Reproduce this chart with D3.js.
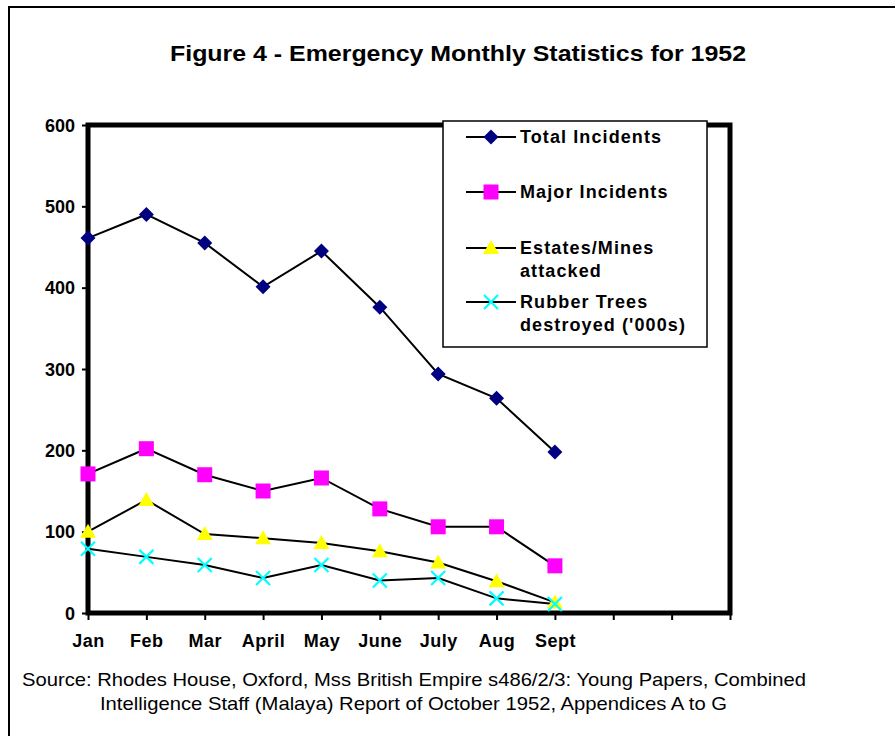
<!DOCTYPE html>
<meta charset="utf-8">
<script src="https://d3js.org/d3.v7.min.js"></script>
<style>
  body { margin: 0; background: #fff; }
  svg text { font-family: "Liberation Sans", Arial, sans-serif; }
</style>
<body>
<svg id="chart" width="895" height="736"></svg>
<script>

// data
var months = ["Jan", "Feb", "Mar", "April", "May", "June", "July", "Aug", "Sept", "", "", ""];
var totalIncidents = [461, 490, 455, 401, 445, 376, 294, 264, 198];
var majorIncidents = [171, 202, 170, 150, 166, 128, 106, 106, 58];
var estatesAttacked = [100, 139, 97, 92, 86, 76, 62, 39, 13];
var rubberTrees = [79, 69, 59, 43, 59, 40, 43, 18, 11];
var yTicks = [0, 100, 200, 300, 400, 500, 600];

var series = [
  {name: ["Total Incidents"], values: totalIncidents, shape: "diamond", color: "#000080"},
  {name: ["Major Incidents"], values: majorIncidents, shape: "square", color: "#ff00ff"},
  {name: ["Estates/Mines", "attacked"], values: estatesAttacked, shape: "triangle", color: "#ffff00"},
  {name: ["Rubber Trees", "destroyed ('000s)"], values: rubberTrees, shape: "cross", color: "#00ffff"}
];

var svg = d3.select("#chart");

// outer frame
svg.append("path")
  .attr("d", "M9,736 V7 H895")
  .attr("fill", "none")
  .attr("stroke", "#000")
  .attr("stroke-width", 2);

svg.append("text")
  .attr("x", 170).attr("y", 61)
  .attr("textLength", 576)
  .attr("lengthAdjust", "spacingAndGlyphs")
  .style("font-size", "22px")
  .style("font-weight", "bold")
  .text("Figure 4 - Emergency Monthly Statistics for 1952");

var plot = {left: 88, right: 730, top: 125, bottom: 613};

var x = d3.scalePoint()
  .domain(d3.range(months.length))
  .range([plot.left, plot.right]);

var y = d3.scaleLinear()
  .domain([0, 600])
  .range([plot.bottom, plot.top]);

// plot frame
svg.append("rect")
  .attr("x", plot.left).attr("y", plot.top)
  .attr("width", plot.right - plot.left)
  .attr("height", plot.bottom - plot.top)
  .attr("fill", "none")
  .attr("stroke", "#000")
  .attr("stroke-width", 5);

// axes
var yAxis = svg.append("g")
  .attr("transform", "translate(" + plot.left + ",0)")
  .call(d3.axisLeft(y).tickValues(yTicks).tickSize(6).tickPadding(7).tickFormat(d3.format("d")));
var xAxis = svg.append("g")
  .attr("transform", "translate(0," + plot.bottom + ")")
  .call(d3.axisBottom(x).tickSize(7).tickPadding(14).tickFormat(function(i) { return months[i]; }));

[yAxis, xAxis].forEach(function(a) {
  a.select(".domain").remove();
  a.selectAll("line").attr("stroke", "#000").attr("stroke-width", 2);
  a.selectAll("text")
    .attr("fill", "#000")
    .style("font-family", "'Liberation Sans', Arial, sans-serif")
    .style("font-size", "18px")
    .style("font-weight", "bold");
});
yAxis.selectAll("text").attr("dy", "0.35em");
xAxis.selectAll("text").style("letter-spacing", "0.5px");

function marker(g, shape, color) {
  if (shape === "diamond") {
    g.append("path").attr("d", "M0,-7.5 L7.5,0 L0,7.5 L-7.5,0 Z").attr("fill", color);
  } else if (shape === "square") {
    g.append("rect").attr("x", -7.5).attr("y", -7.5).attr("width", 15).attr("height", 15).attr("fill", color);
  } else if (shape === "triangle") {
    g.append("path").attr("d", "M0,-8 L8,6 L-8,6 Z").attr("fill", color);
  } else {
    g.append("path").attr("d", "M-7,-7 L7,7 M-7,7 L7,-7")
      .attr("stroke", color).attr("stroke-width", 2.2).attr("fill", "none");
  }
}

var line = d3.line()
  .x(function(d, i) { return x(i); })
  .y(function(d) { return y(d); });

series.forEach(function(s) {
  svg.append("path")
    .datum(s.values)
    .attr("d", line)
    .attr("fill", "none")
    .attr("stroke", "#000")
    .attr("stroke-width", 2);
});
series.forEach(function(s) {
  s.values.forEach(function(v, i) {
    var g = svg.append("g").attr("transform", "translate(" + x(i) + "," + y(v) + ")");
    marker(g, s.shape, s.color);
  });
});

// legend
var legend = svg.append("g");
legend.append("rect")
  .attr("x", 443).attr("y", 121)
  .attr("width", 264).attr("height", 226)
  .attr("fill", "#fff")
  .attr("stroke", "#000")
  .attr("stroke-width", 1.5);

var legendY = [137, 192, 248, 302];
series.forEach(function(s, k) {
  var gy = legendY[k];
  legend.append("line")
    .attr("x1", 466).attr("x2", 516)
    .attr("y1", gy).attr("y2", gy)
    .attr("stroke", "#000").attr("stroke-width", 2);
  marker(legend.append("g").attr("transform", "translate(491," + gy + ")"), s.shape, s.color);
  s.name.forEach(function(t, j) {
    legend.append("text")
      .attr("x", 520).attr("y", gy + 6 + j * 23)
      .style("font-size", "18px")
      .style("font-weight", "bold")
      .style("letter-spacing", "1.1px")
      .text(t);
  });
});

// source note
var source = [
  "Source: Rhodes House, Oxford, Mss British Empire s486/2/3: Young Papers, Combined",
  "Intelligence Staff (Malaya) Report of October 1952, Appendices A to G"
];
svg.append("text").attr("x", 22).attr("y", 686)
  .attr("textLength", 784).attr("lengthAdjust", "spacingAndGlyphs")
  .style("font-size", "19px").text(source[0]);
svg.append("text").attr("x", 100).attr("y", 710)
  .attr("textLength", 627).attr("lengthAdjust", "spacingAndGlyphs")
  .style("font-size", "19px").text(source[1]);

</script>
</body>
